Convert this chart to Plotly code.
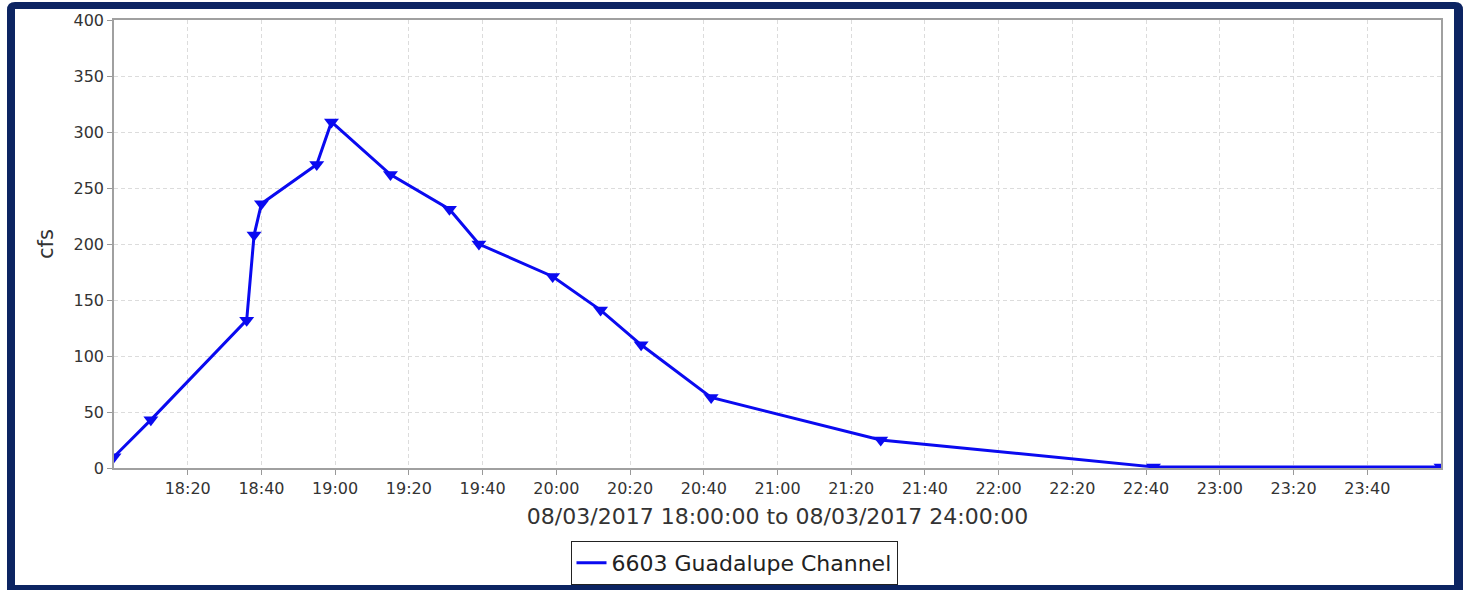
import plotly.graph_objects as go

# ---- data ----
times = [
    "2017-08-03 18:00", "2017-08-03 18:10", "2017-08-03 18:36", "2017-08-03 18:38",
    "2017-08-03 18:40", "2017-08-03 18:55", "2017-08-03 18:59", "2017-08-03 19:15",
    "2017-08-03 19:31", "2017-08-03 19:39", "2017-08-03 19:59", "2017-08-03 20:12",
    "2017-08-03 20:23", "2017-08-03 20:42", "2017-08-03 21:28", "2017-08-03 22:42",
    "2017-08-04 00:00",
]
flows = [10, 43, 132, 208, 236, 271, 309, 262, 231, 200, 171, 141, 110, 63, 25, 1, 1]
series_name = "6603 Guadalupe Channel"
tick_labels = ["18:20", "18:40", "19:00", "19:20", "19:40", "20:00", "20:20", "20:40",
               "21:00", "21:20", "21:40", "22:00", "22:20", "22:40", "23:00", "23:20", "23:40"]
y_ticks = [0, 50, 100, 150, 200, 250, 300, 350, 400]
x_title = "08/03/2017 18:00:00 to 08/03/2017 24:00:00"
y_title = "cfs"

# ---- layout geometry (pixels) ----
W, H = 1466, 590
L, R, T, B = 114, 25, 20, 122
PW, PH = W - L - R, H - T - B

def px(x):
    return (x - L) / PW

def py(y):
    return (H - B - y) / PH

def frame_path(x0, y0, x1, y1, r):
    # rounded top corners, straight bottom (cut by the picture edge)
    pts = [
        f"M {px(x0 + r)},{py(y0)}",
        f"L {px(x1 - r)},{py(y0)}",
        f"Q {px(x1)},{py(y0)} {px(x1)},{py(y0 + r)}",
        f"L {px(x1)},{py(y1)}",
        f"L {px(x0)},{py(y1)}",
        f"L {px(x0)},{py(y0 + r)}",
        f"Q {px(x0)},{py(y0)} {px(x0 + r)},{py(y0)}",
        "Z",
    ]
    return " ".join(pts)

navy = "#0c2462"
blue = "#0a0af0"
font = "DejaVu Sans"

fig = go.Figure()
fig.add_trace(go.Scatter(
    x=times, y=flows, mode="lines+markers", name=series_name,
    line=dict(color=blue, width=3),
    marker=dict(symbol="triangle-down", size=13, color=blue),
    showlegend=False, cliponaxis=True,
))
# legend entry (line only, as in the reference)
fig.add_trace(go.Scatter(
    x=[None], y=[None], mode="lines", name=series_name,
    line=dict(color=blue, width=3), showlegend=True,
))

fig.update_layout(
    width=W, height=H,
    margin=dict(l=L, r=R, t=T, b=B, pad=0, autoexpand=False),
    paper_bgcolor="white", plot_bgcolor="white",
    font=dict(family=font, color="#333333"),
    shapes=[
        dict(type="path", xref="paper", yref="paper", layer="below",
             path=frame_path(7, 2, 1463, 590, 8), fillcolor=navy, line=dict(width=0)),
        dict(type="rect", xref="paper", yref="paper", layer="below",
             x0=px(15), x1=px(1454), y0=py(585), y1=py(9),
             fillcolor="white", line=dict(width=0)),
    ],
    legend=dict(
        x=px(734), xanchor="center", y=py(541), yanchor="top",
        orientation="h", bordercolor="#222222", borderwidth=1, bgcolor="white",
        font=dict(family=font, size=22, color="#222222"),
    ),
    showlegend=True,
)

fig.update_xaxes(
    type="date",
    range=["2017-08-03 18:00", "2017-08-04 00:00"],
    tickvals=["2017-08-03 " + t for t in tick_labels],
    ticktext=tick_labels,
    tickfont=dict(family=font, size=16, color="#333333"),
    ticks="outside", ticklen=5, tickcolor="#999999",
    showline=True, linecolor="#a0a0a0", linewidth=1.5, mirror=True,
    showgrid=True, gridcolor="#dcdcdc", griddash="4px,3px", gridwidth=1,
    zeroline=False,
    title=dict(text=x_title, font=dict(family=font, size=22, color="#333333"), standoff=12),
    automargin=False,
)
fig.update_yaxes(
    range=[0, 400],
    tickvals=y_ticks,
    tickfont=dict(family=font, size=16, color="#333333"),
    ticks="outside", ticklen=5, tickcolor="#999999",
    showline=True, linecolor="#a0a0a0", linewidth=1.5, mirror=True,
    showgrid=True, gridcolor="#dcdcdc", griddash="4px,3px", gridwidth=1,
    zeroline=False,
    title=dict(text=y_title, font=dict(family=font, size=21, color="#333333"), standoff=14),
    automargin=False,
)

page_css = (
    "var de=document.documentElement, b=document.body;"
    "de.style.margin='0'; de.style.padding='0'; de.style.overflow='hidden';"
    "b.style.margin='0'; b.style.padding='0'; b.style.overflow='hidden';"
)
fig.write_html("out.html", config={"displayModeBar": False}, post_script=page_css)
